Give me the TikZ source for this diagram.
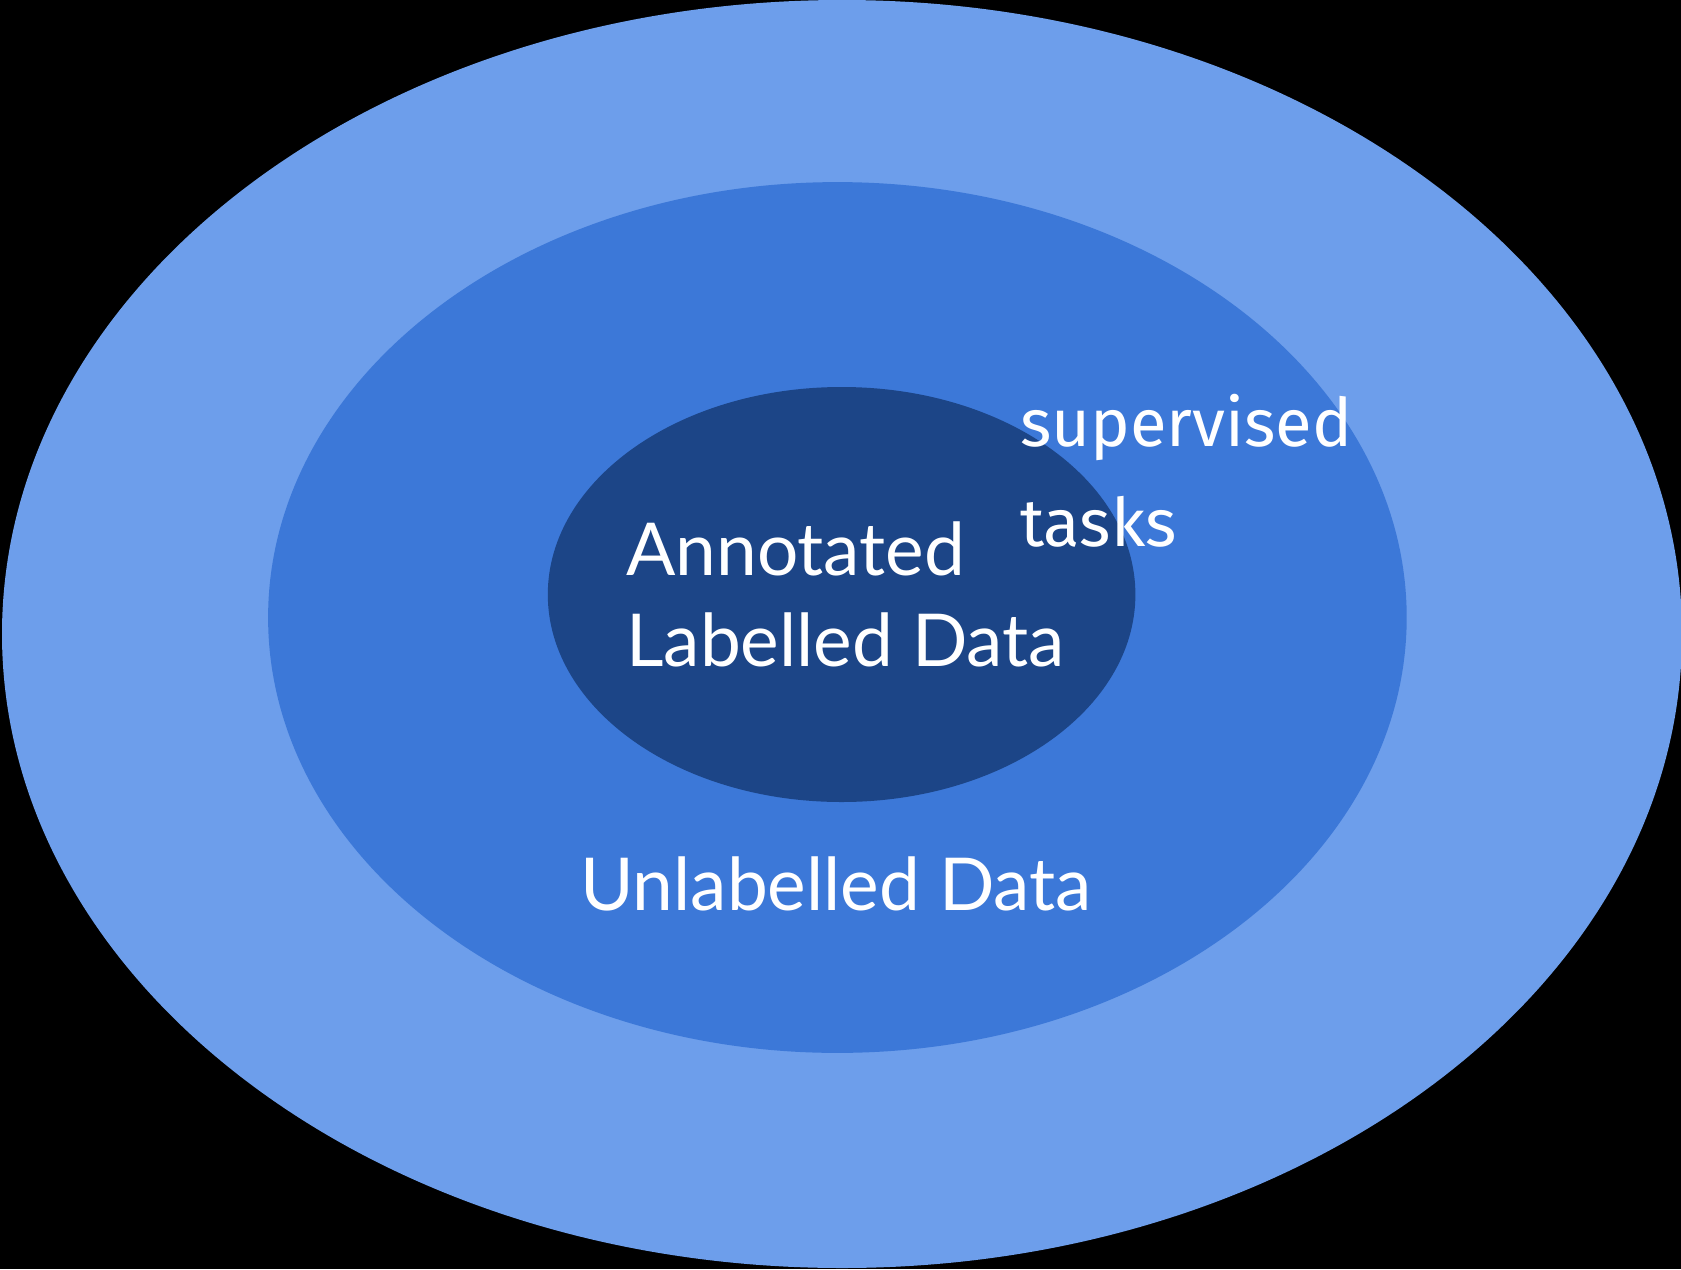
\documentclass[tikz,border=0pt]{standalone}
\usepackage{fontspec}
\setmainfont{Lato}
\newfontfamily\firafont{Fira Sans}
\definecolor{outerblue}{HTML}{6D9EEB}
\definecolor{midblue}{HTML}{3C78D8}
\definecolor{innerblue}{HTML}{1C4587}
\begin{document}
\begin{tikzpicture}[x=1pt,y=-1pt,
  lbl/.style={text=white,inner sep=0pt,anchor=base west,font=\fontsize{73}{88}\selectfont},
  sup/.style={text=white,inner sep=0pt,anchor=base west,font=\firafont\fontsize{67}{80}\selectfont}]
\fill[black] (0,0) rectangle (1681,1269);
\useasboundingbox (0,0) rectangle (1681,1269);
\fill[outerblue] (842,634) ellipse [x radius=840, y radius=634];
\fill[midblue] (837.4,617.5) ellipse [x radius=569.3, y radius=435.4];
\fill[innerblue] (841.6,594.5) ellipse [x radius=293.8, y radius=207.5];
\node[lbl] (ann1) at (626,575) {Annotated};
\node[lbl] (ann2) at (626,666.7) {Labelled Data};
\node[lbl] (unl) at (580,910) {Unlabelled Data};
\node[sup] (sup1) at (1020,446.7) {supervised};
\node[sup] (sup2) at (1020,546.7) {tasks};
\end{tikzpicture}
\end{document}
